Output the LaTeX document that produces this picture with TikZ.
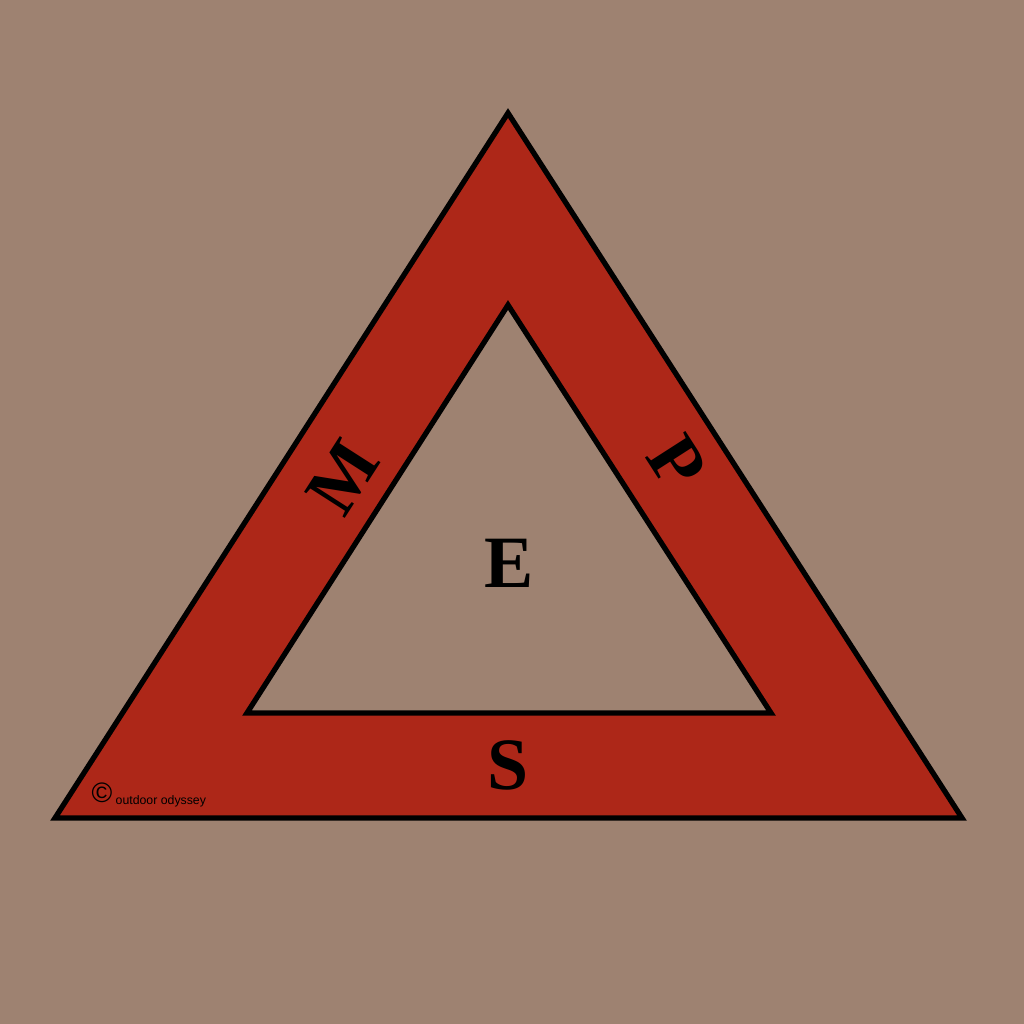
\documentclass[tikz,border=0pt]{standalone}
\usepackage{fontspec}
\setmainfont{Liberation Serif}
\newfontfamily\creditfont{Liberation Sans}
\usepackage{xcolor}
\usepackage{tikz}
\definecolor{sand}{HTML}{9E8271}
\definecolor{brick}{HTML}{AD2718}

\begin{document}
\begin{tikzpicture}[letter/.style={font=\fontsize{21}{25}\selectfont\bfseries,text depth=0pt}]
  \fill[sand] (0,0) rectangle (10.24,10.24);
  \useasboundingbox (0,0) rectangle (10.24,10.24);
  % outer band, inner triangle cut out
  \draw[fill=brick,line width=1.5pt,line join=miter] (5.08,9.11) -- (9.62,2.06) -- (0.55,2.06) -- cycle;
  \draw[fill=sand,line width=1.5pt,line join=miter] (5.08,7.19) -- (7.71,3.11) -- (2.47,3.11) -- cycle;
  \node[letter] (centre) at (5.09,4.61) {E};
  \node[letter] (bottom) at (5.08,2.59) {S};
  \node[letter,rotate=57.3] (left) at (3.43,5.47) {M};
  \node[letter,rotate=-57.3] (right) at (6.77,5.62) {P};
  \node[font=\fontsize{8}{9}\selectfont\creditfont,inner sep=0pt] (copy) at (1.02,2.31) {\textcopyright};
  \node[font=\fontsize{3.5}{4.2}\selectfont\creditfont,inner sep=0pt,anchor=base west] (credit) at (1.15,2.19) {outdoor odyssey};
\end{tikzpicture}
\end{document}
